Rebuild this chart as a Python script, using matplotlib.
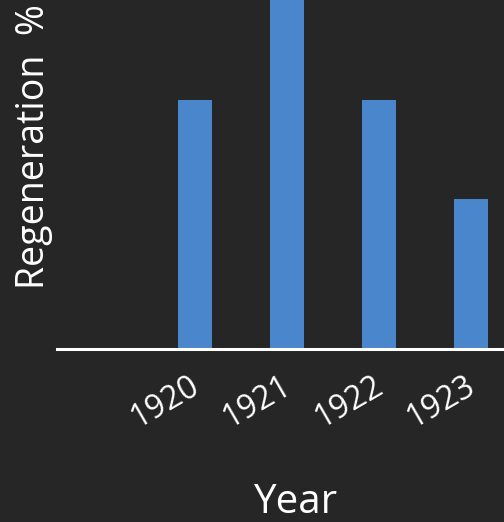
import matplotlib.pyplot as plt
from matplotlib.transforms import ScaledTranslation

years = ["", "1920", "1921", "1922", "1923"]
regen = [0, 50, 70, 50, 30]

bg = '#262626'
plt.rcParams['font.family'] = ['Open Sans', 'DejaVu Sans']

fig = plt.figure(figsize=(5.04, 5.22), dpi=100, facecolor=bg)
ax = fig.add_axes([57 / 504, 173 / 522, 1 - 57 / 504, 1 - 173 / 522])
ax.set_facecolor(bg)

pos = list(range(len(years)))
ax.bar(pos, regen, width=0.37, color='#4a86cc')
ax.set_xlim(-0.5, 4.36)
ax.set_ylim(0, 70)

for s in ['top', 'right', 'left']:
    ax.spines[s].set_visible(False)
ax.spines['bottom'].set_color('white')
ax.spines['bottom'].set_linewidth(2.2)

ax.set_yticks([])
ax.set_xticks(pos)
ax.set_xticklabels(years, rotation=30, ha='right', rotation_mode='anchor',
                   color='white', fontsize=23)
ax.tick_params(axis='x', length=0, pad=15)
shift = ScaledTranslation(-7 / 100, 0, fig.dpi_scale_trans)
for lab in ax.get_xticklabels():
    lab.set_transform(lab.get_transform() + shift)

fig.text(0.068, 0.72, "Regeneration  %", rotation=90, color='white',
         fontsize=27, ha='center', va='center')
fig.text(0.588, 0.036, "Year", color='white', fontsize=29, ha='center', va='center')

fig.savefig('out.png', facecolor=bg)
